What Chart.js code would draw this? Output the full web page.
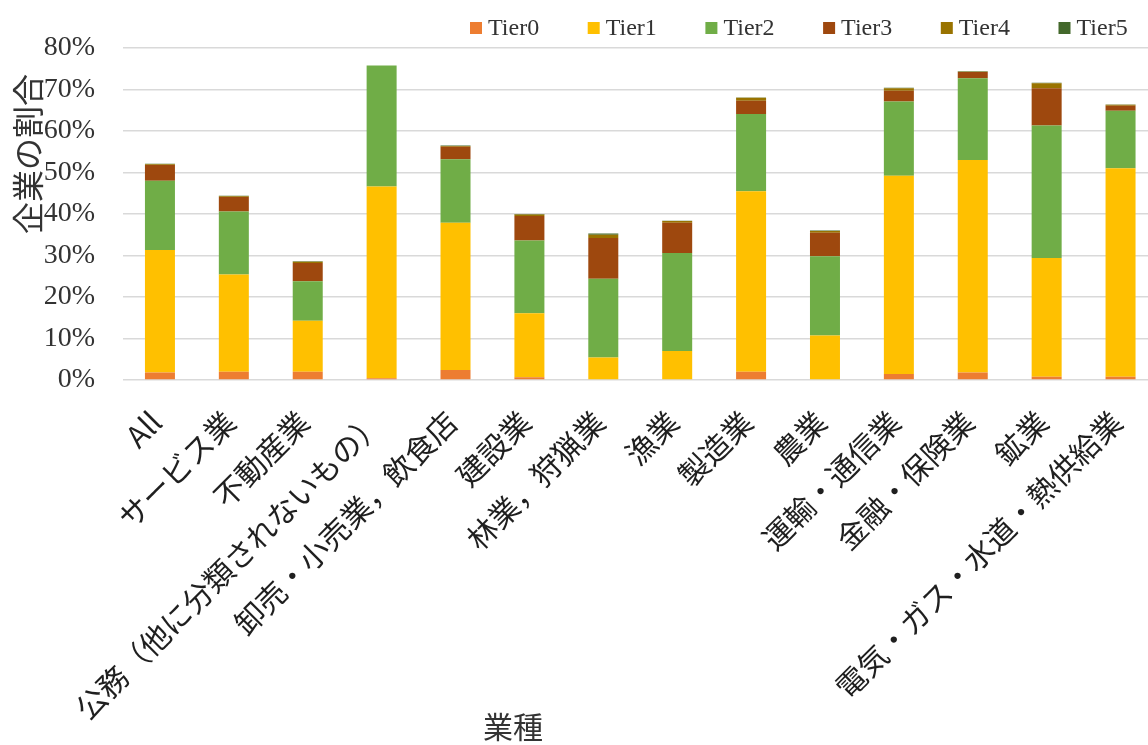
<!DOCTYPE html>
<html lang="ja">
<head>
<meta charset="utf-8">
<title>業種別 Tier 構成</title>
<script src="https://cdn.jsdelivr.net/npm/chart.js@4.4.1/dist/chart.umd.min.js"></script>
<style>
  html, body { margin: 0; padding: 0; background: #ffffff; overflow: hidden; }
  #wrap { position: relative; width: 1170px; height: 745px; }
</style>
</head>
<body>
<div id="wrap"><canvas id="chart"></canvas></div>
<script>
// 業種（カテゴリ）
const categories = [
  'All', 'サービス業', '不動産業', '公務（他に分類されないもの）', '卸売・小売業，飲食店',
  '建設業', '林業，狩猟業', '漁業', '製造業', '農業',
  '運輸・通信業', '金融・保険業', '鉱業', '電気・ガス・水道・熱供給業'
];

// 各 Tier の企業の割合（%）
const tier0 = [1.8, 2.0, 2.0, 0.4, 2.4, 0.65, 0, 0, 2.0, 0, 1.45, 1.8, 0.8, 0.8];
const tier1 = [29.5, 23.4, 12.3, 46.2, 35.5, 15.45, 5.4, 7.0, 43.5, 10.7, 47.75, 51.2, 28.6, 50.2];
const tier2 = [16.7, 15.2, 9.5, 29.2, 15.3, 17.5, 19.0, 23.6, 18.6, 19.1, 17.9, 19.7, 31.9, 13.9];
const tier3 = [3.8, 3.5, 4.4, 0, 3.0, 5.9, 9.8, 7.3, 3.2, 5.7, 2.6, 1.5, 9.0, 1.2];
const tier4 = [0.2, 0.2, 0.3, 0, 0.2, 0.4, 0.8, 0.4, 0.7, 0.4, 0.6, 0.1, 1.2, 0.2];
const tier5 = [0.1, 0.1, 0.1, 0, 0.1, 0.1, 0.3, 0.1, 0.1, 0.1, 0.1, 0.1, 0.1, 0.1];

const seriesNames = ['Tier0', 'Tier1', 'Tier2', 'Tier3', 'Tier4', 'Tier5'];
const seriesValues = [tier0, tier1, tier2, tier3, tier4, tier5];
const seriesColors = ['#ED7D31', '#FFC000', '#70AD47', '#9E480E', '#997300', '#43682B'];

// 縦軸の目盛り
const yMin = 0;
const yMax = 80;
const yStep = 10;

const yTitle = '企業の割合';
const xTitle = '業種';

const CJK = "'Noto Sans CJK JP', 'Noto Sans', sans-serif";
const SERIF = "'Liberation Serif', 'DejaVu Serif', serif";
const TEXT = '#333333';

// 凡例と軸タイトルを描くプラグイン
const decorations = {
  id: 'decorations',
  afterDraw(chart) {
    const ctx = chart.ctx;
    ctx.save();

    // 凡例
    const legendY = 28;
    const legendX0 = 470;
    const legendStep = 117.7;
    const box = 12;
    ctx.font = '24px ' + SERIF;
    ctx.textBaseline = 'middle';
    ctx.textAlign = 'left';
    chart.data.datasets.forEach((ds, i) => {
      const x = legendX0 + i * legendStep;
      ctx.fillStyle = ds.backgroundColor;
      ctx.fillRect(x, legendY - box / 2, box, box);
      ctx.fillStyle = TEXT;
      ctx.fillText(ds.label, x + box + 6, legendY + 1);
    });

    // 縦軸タイトル
    ctx.font = '32px ' + CJK;
    ctx.fillStyle = TEXT;
    ctx.textAlign = 'center';
    ctx.textBaseline = 'middle';
    ctx.translate(28, 154);
    ctx.rotate(-Math.PI / 2);
    ctx.fillText(yTitle, 0, 0);
    ctx.setTransform(1, 0, 0, 1, 0, 0);

    // 横軸タイトル
    ctx.font = '30px ' + CJK;
    ctx.fillStyle = TEXT;
    ctx.fillText(xTitle, 513, 727);

    ctx.restore();
  }
};

const datasets = seriesNames.map((name, i) => ({
  label: name,
  data: seriesValues[i],
  backgroundColor: seriesColors[i],
  borderWidth: 0,
  barPercentage: 0.406,
  categoryPercentage: 1.0
}));

new Chart(document.getElementById('chart'), {
  type: 'bar',
  data: { labels: categories, datasets },
  options: {
    responsive: true,
    maintainAspectRatio: false,
    animation: false,
    devicePixelRatio: 1,
    layout: { padding: { top: 48, right: 0, bottom: 0, left: 0 } },
    plugins: {
      legend: { display: false },
      tooltip: { enabled: false }
    },
    scales: {
      x: {
        stacked: true,
        grid: { display: false, drawTicks: false },
        border: { display: false },
        ticks: {
          autoSkip: false,
          maxRotation: 45,
          minRotation: 45,
          padding: 24,
          labelOffset: -4,
          color: '#1f1f1f',
          font: { family: CJK, size: 30 }
        },
        afterFit(scale) { scale.height = 365; }
      },
      y: {
        stacked: true,
        min: yMin,
        max: yMax,
        grid: { color: '#d9d9d9', lineWidth: 1.5, drawTicks: false },
        border: { display: false },
        ticks: {
          stepSize: yStep,
          padding: 28,
          color: TEXT,
          font: { family: SERIF, size: 28 },
          callback: (v) => v + '%'
        },
        afterFit(scale) { scale.width = 123; }
      }
    }
  },
  plugins: [decorations]
});
</script>
</body>
</html>
